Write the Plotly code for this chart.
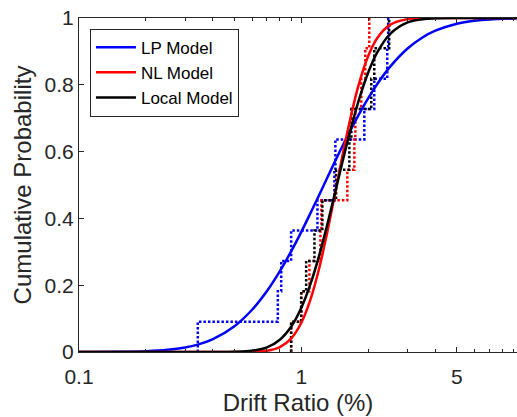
import plotly.graph_objects as go

# ---- data ----
drift_grid = [0.1, 0.15, 0.2, 0.25, 0.3, 0.35, 0.4, 0.5, 0.6, 0.7, 0.8, 0.9, 1.0, 1.1, 1.2,
              1.3, 1.4, 1.5, 1.6, 1.8, 2.0, 2.2, 2.5, 3.0, 3.5, 4.0, 5.0, 6.0, 7.0, 9.3]

lp_fit = [0.0000, 0.0005, 0.0023, 0.0064, 0.0136, 0.0243, 0.0387, 0.0774, 0.1265, 0.1825,
          0.242, 0.302, 0.3605, 0.4168, 0.4695, 0.5187, 0.5639, 0.6053, 0.6428, 0.7079,
          0.761, 0.804, 0.8538, 0.9088, 0.9418, 0.9621, 0.983, 0.9918, 0.9958, 0.9989]
nl_fit = [0.0, 0.0, 0.0, 0.0, 0.0, 0.0, 0.0, 0.0, 0.0006, 0.0037,
          0.0147, 0.0408, 0.0882, 0.1589, 0.2493, 0.352, 0.458, 0.5596, 0.6513, 0.7954,
          0.8878, 0.9417, 0.9794, 0.9967, 0.9995, 1.0, 1.0, 1.0, 1.0, 1.0]
local_fit = [0.0, 0.0, 0.0, 0.0, 0.0, 0.0, 0.0, 0.0007, 0.0039, 0.0141,
             0.0369, 0.0763, 0.1331, 0.2052, 0.2878, 0.3756, 0.4632, 0.5464, 0.6225, 0.7483,
             0.8385, 0.8992, 0.952, 0.9867, 0.9964, 0.999, 0.9999, 1.0, 1.0, 1.0]

# empirical samples (sorted) and their cumulative probabilities
lp_samples = [0.342, 0.783, 0.811, 0.899, 1.18, 1.406, 1.421, 1.917, 2.125, 2.43, 2.455]
nl_samples = [0.899, 1.0, 1.086, 1.217, 1.229, 1.608, 1.729, 1.747, 1.858, 1.936, 2.018]
local_samples = [0.899, 0.997, 1.05, 1.144, 1.242, 1.431, 1.642, 1.676, 2.06, 2.125, 2.48]
step_prob = [0.0, 0.0909, 0.1818, 0.2727, 0.3636, 0.4545, 0.5455, 0.6364, 0.7273,
             0.8182, 0.9091, 1.0]

series_names = ["LP Model", "NL Model", "Local Model"]
series_colors = ["#0000FF", "#FF0000", "#000000"]

x_tick_vals = [0.1, 1, 5]
x_tick_text = ["0.1", "1", "5"]
x_minor_vals = [0.2, 0.3, 0.4, 0.5, 0.6, 0.7, 0.8, 0.9, 2, 3, 4, 6, 7, 8, 9]
y_tick_vals = [0, 0.2, 0.4, 0.6, 0.8, 1]
y_tick_text = ["0", "0.2", "0.4", "0.6", "0.8", "1"]

fig = go.Figure()

samples = [lp_samples, nl_samples, local_samples]
fits = [lp_fit, nl_fit, local_fit]

# dotted empirical steps first
for s, c in zip(samples, series_colors):
    fig.add_trace(go.Scatter(
        x=[s[0]] + s, y=step_prob, mode="lines", line_shape="hv",
        line=dict(color=c, width=2.5, dash="2.5px,2px"), showlegend=False,
        hoverinfo="skip"))

# fitted curves
for f, c, n in zip(fits, series_colors, series_names):
    fig.add_trace(go.Scatter(
        x=drift_grid, y=f, mode="lines", line_shape="spline",
        line=dict(color=c, width=2.5), name=n))

axis_color = "#262626"
font_family = "Liberation Sans, Arial, sans-serif"

fig.update_layout(
    width=517, height=417,
    margin=dict(l=79, r=0, t=18, b=65),
    paper_bgcolor="white", plot_bgcolor="white",
    font=dict(family=font_family, color=axis_color, size=21),
    showlegend=True,
    legend=dict(
        x=0.025, y=0.968, xanchor="left", yanchor="top",
        bgcolor="white", bordercolor="#262626", borderwidth=1,
        font=dict(size=17, color="black", family=font_family),
        tracegroupgap=0, itemwidth=40),
    xaxis=dict(
        type="log", range=[-1, 0.969],
        tickvals=x_tick_vals, ticktext=x_tick_text,
        ticks="inside", ticklen=5, tickcolor=axis_color,
        showline=True, linecolor=axis_color, linewidth=1, mirror="ticks",
        showgrid=False, zeroline=False,
        minor=dict(tickvals=x_minor_vals, ticks="inside", ticklen=3,
                   tickcolor=axis_color, showgrid=False),
        tickfont=dict(size=21, color=axis_color),
        ticklabelstandoff=6,
        title=dict(text="Drift Ratio (%)", font=dict(size=24, color=axis_color),
                   standoff=6),
    ),
    yaxis=dict(
        range=[0, 1],
        tickvals=y_tick_vals, ticktext=y_tick_text,
        ticks="inside", ticklen=5, tickcolor=axis_color,
        showline=True, linecolor=axis_color, linewidth=1, mirror=False,
        showgrid=False, zeroline=False,
        tickfont=dict(size=21, color=axis_color),
        title=dict(text="Cumulative Probability", font=dict(size=24, color=axis_color),
                   standoff=6),
    ),
)

fig.write_html("out.html")
